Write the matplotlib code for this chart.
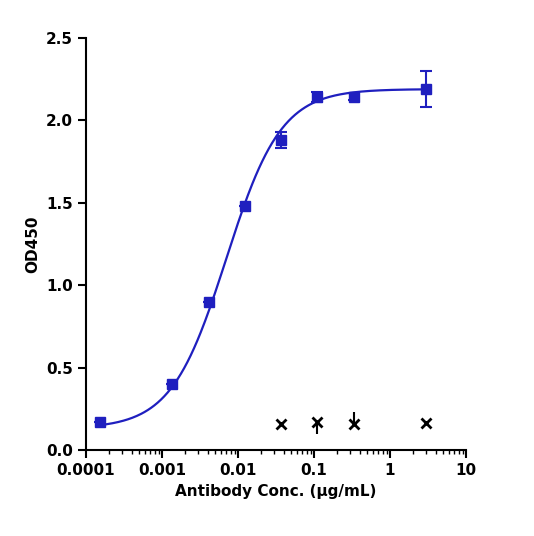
import matplotlib
matplotlib.use("Agg")
import matplotlib.pyplot as plt
import numpy as np

# Blue series (antibody)
conc = [0.000152, 0.00137, 0.00412, 0.0123, 0.037, 0.111, 0.333, 3.0]
od = [0.17, 0.40, 0.90, 1.48, 1.88, 2.14, 2.145, 2.19]
od_err = [0.0, 0.0, 0.0, 0.0, 0.05, 0.03, 0.02, 0.11]

# Black control series
ctrl_conc = [0.037, 0.111, 0.333, 3.0]
ctrl_od = [0.16, 0.17, 0.16, 0.165]
ctrl_err_low = [0.01, 0.07, 0.0, 0.01]
ctrl_err_high = [0.01, 0.0, 0.07, 0.01]

# 4PL fit parameters
bottom, top, ec50, hill = 0.13, 2.19, 0.007, 1.2

fig = plt.figure(figsize=(5.34, 5.36), dpi=100)
ax = fig.add_axes([86 / 534, 1 - 450 / 536, 380 / 534, 412 / 536])

xs = np.logspace(np.log10(0.00015), np.log10(3.2), 300)
ys = bottom + (top - bottom) / (1 + (ec50 / xs) ** hill)
ax.plot(xs, ys, color="#1f1fbf", lw=1.6)
ax.errorbar(conc, od, yerr=od_err, fmt="s", color="#1f1fbf", ms=7, capsize=4, elinewidth=1.5, capthick=1.5)
ax.errorbar(ctrl_conc, ctrl_od, yerr=[ctrl_err_low, ctrl_err_high], fmt="x", color="black",
            ms=7, mew=2, capsize=0, elinewidth=1.5)

ax.set_xscale("log")
ax.set_xlim(0.0001, 10)
ax.set_ylim(0, 2.5)
ax.set_xticks([0.0001, 0.001, 0.01, 0.1, 1, 10])
ax.set_xticklabels(["0.0001", "0.001", "0.01", "0.1", "1", "10"])
ax.set_yticks([0, 0.5, 1.0, 1.5, 2.0, 2.5])
ax.set_yticklabels(["0.0", "0.5", "1.0", "1.5", "2.0", "2.5"])
for s in ["top", "right"]:
    ax.spines[s].set_visible(False)
for s in ["left", "bottom"]:
    ax.spines[s].set_linewidth(1.5)
ax.tick_params(width=1.5, length=6, labelsize=11)
ax.tick_params(which="minor", width=1, length=3)
for lab in ax.get_xticklabels() + ax.get_yticklabels():
    lab.set_fontweight("bold")
ax.set_xlabel("Antibody Conc. (μg/mL)", fontsize=11, fontweight="bold")
ax.set_ylabel("OD450", fontsize=11, fontweight="bold")

fig.savefig("out.png")
